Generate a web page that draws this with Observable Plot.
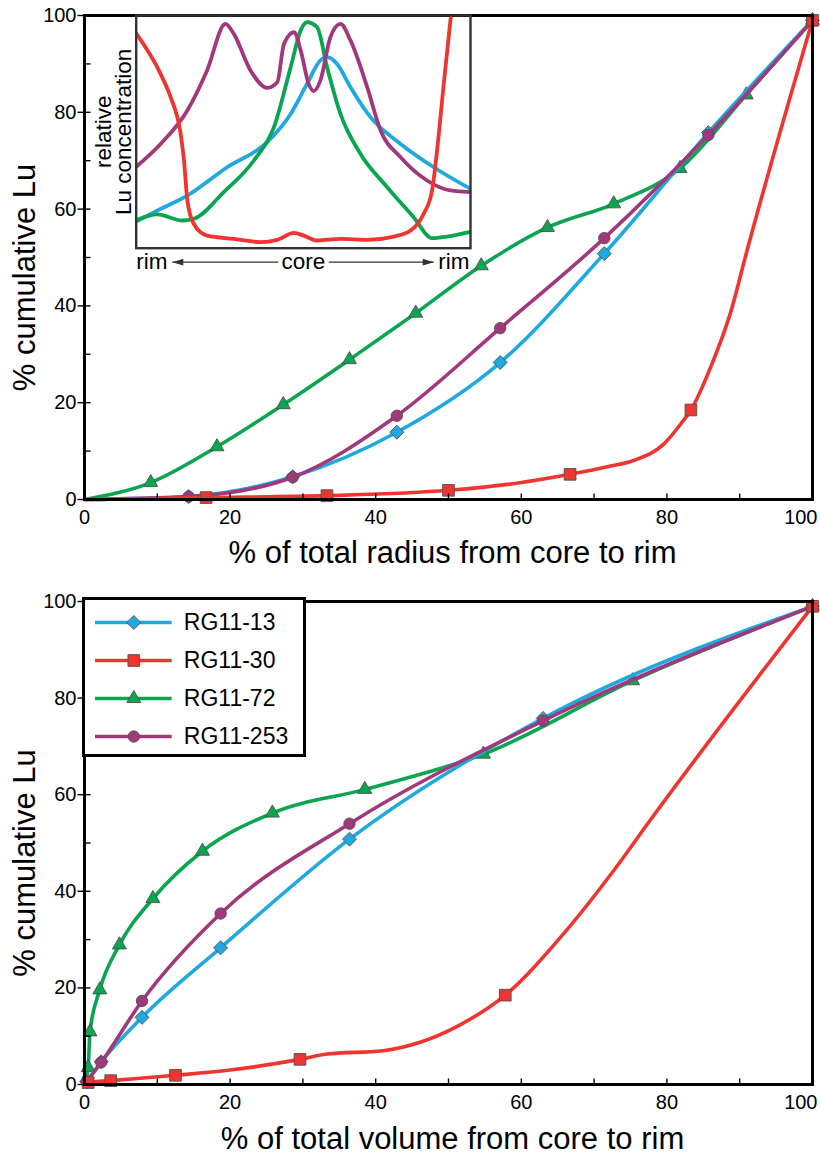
<!DOCTYPE html>
<html><head><meta charset="utf-8">
<script src="https://cdn.jsdelivr.net/npm/d3@7"></script>
<script src="https://cdn.jsdelivr.net/npm/@observablehq/plot@0.6"></script>
<style>
body{margin:0;background:#fff;}
#wrap{position:relative;width:820px;height:1154px;}
#wrap svg{display:block;}
</style></head><body><div id="wrap"></div>
<script>
// ---------- data ----------
const names  = ["RG11-13", "RG11-30", "RG11-72", "RG11-253"];
const colors = ["#1fa9e0", "#ef3530", "#0aa550", "#a1387c"];
const symbolNames = ["diamond2", "square", "triangle", "circle"];

// cumulative Lu (%) at each marker
const lu13  = [0.6, 4.7, 13.9, 28.3, 50.8, 75.8, 99];
const lu30  = [0.4, 0.8, 1.9, 5.2, 18.5, 99];
const lu72  = [3.5, 10.9, 19.6, 28.9, 38.5, 48.3, 56.2, 61.1, 68.4, 83.6, 99];
const lu253 = [0.6, 4.6, 17.3, 35.4, 54.0, 75.3, 99];

// marker positions, % of total radius
const rad13  = [14.3, 28.6, 42.9, 57.1, 71.4, 85.7, 100];
const rad30  = [16.7, 33.3, 50, 66.7, 83.3, 100];
const rad72  = [9.1, 18.2, 27.3, 36.4, 45.5, 54.5, 63.6, 72.7, 81.8, 90.9, 100];
const rad253 = [14.3, 28.6, 42.9, 57.1, 71.4, 85.7, 100];

// marker positions, % of total volume
const vol13  = [0.3, 2.3, 7.9, 18.7, 36.4, 63.0, 100];
const vol30  = [0.5, 3.6, 12.5, 29.6, 57.8, 100];
const vol72  = [0.5, 0.75, 2.1, 4.8, 9.4, 16.2, 25.8, 38.5, 54.8, 75.3, 100];
const vol253 = [0.3, 2.3, 7.9, 18.7, 36.4, 63.0, 100];

// RG11-30 drawn curve
const rad30LineX = [0, 16.7, 33.3, 50, 60, 66.7, 72, 75.5, 79.6, 81.9, 83.3, 86, 88.7, 91, 100];
const rad30LineY = [0, 0.4, 0.8, 1.9, 3.5, 5.2, 6.8, 8.1, 11.5, 15.6, 18.5, 27.3, 38.4, 51.4, 99];
const vol30LineX = [0, 0.5, 3.6, 12.5, 20, 29.6, 33.3, 41, 46.2, 51.4, 57.8, 65.8, 72.7, 77.7, 100];
const vol30LineY = [0, 0.4, 0.8, 1.9, 3.0, 5.2, 6.3, 7.0, 8.8, 12.2, 18.5, 31.2, 44.3, 54.7, 99];

// inset: relative Lu concentration profiles (rim -> core -> rim, 0..100)
const inset13U  = [0, 7.3, 15.3, 27.2, 39.2, 46.2, 51.1, 55.1, 57.1, 60.1, 64.1, 70.1, 79.1, 89.0, 100];
const inset13V  = [11.5, 16.9, 22.6, 34.8, 45.6, 57.7, 70.6, 80.7, 82.1, 79.2, 69.2, 56.3, 44.8, 34.8, 25.5];
const inset30U  = [0, 7.3, 10.3, 13.3, 14.3, 15.3, 17.2, 21.2, 29.2, 37.2, 42.2, 47.2, 50.1, 54.1, 61.1, 69.1, 77.1, 82.1, 86.0, 88.5, 90.0, 92.0, 94.0, 94.6];
const inset30V  = [92.3, 74.9, 64.9, 49.1, 37.7, 20.5, 10.5, 5.4, 4.0, 2.6, 3.6, 6.6, 5.4, 3.3, 4.0, 3.6, 5.0, 7.6, 14.8, 24.8, 42.0, 70.6, 97.9, 106];
const inset72U  = [0, 6.3, 13.8, 17.2, 26.2, 35.2, 41.2, 46.2, 49.2, 51.1, 54.1, 57.1, 61.1, 67.1, 75.1, 83.0, 88.5, 93.0, 100];
const inset72V  = [12.0, 14.5, 11.9, 12.6, 24.1, 37.7, 52.0, 77.8, 93.6, 97.1, 95.0, 77.8, 57.7, 40.5, 26.2, 13.3, 4.3, 5.0, 7.0];
const inset253U = [0, 7.3, 15.3, 21.2, 26.7, 29.2, 34.2, 39.2, 42.2, 44.2, 47.2, 49.2, 51.6, 53.1, 55.1, 58.1, 61.1, 64.1, 69.1, 73.1, 79.1, 87.0, 94.0, 100];
const inset253V = [35.0, 44.8, 59.2, 76.4, 96.4, 92.1, 76.4, 68.9, 71.3, 87.8, 92.8, 85.0, 70.6, 67.5, 72.1, 90.7, 96.4, 89.3, 69.2, 50.6, 39.1, 29.1, 24.8, 24.1];
const insetLabels = ["rim", "core", "rim"];
const insetLabelU = [0, 50, 100];
const arrowFromU = [42.5, 57.6];
const arrowToU   = [10.8, 89.0];

// axes
const xMajor = [0, 20, 40, 60, 80, 100];
const xTickLabels = ["0", "20", "40", "60", "80", "100"];
const xMinor = [10, 30, 50, 70, 90];
const yMajor = [0, 20, 40, 60, 80, 100];
const yTickLabels = ["0", "20", "40", "60", "80", "100"];
const yMinor = [10, 30, 50, 70, 90];
const yTitle = "% cumulative Lu";
const xTitleTop = "% of total radius from core to rim";
const xTitleBottom = "% of total volume from core to rim";

// ---------- rendering ----------
const font = "'Liberation Sans', Arial, Helvetica, sans-serif";
const lu = [lu13, lu30, lu72, lu253];
const radii = [6.3, 6.6, 5.2, 5.7];
const colorScale = {domain: names, range: colors};

const tickUp    = {draw(c) { c.moveTo(0, 0); c.lineTo(0, -6); }};
const tickIn    = {draw(c) { c.moveTo(0, 0); c.lineTo(6, 0); }};
const tickCross = {draw(c) { c.moveTo(-7, 0); c.lineTo(6, 0); }};
const headLeft  = {draw(c) { c.moveTo(0, 0); c.lineTo(11, -3.4); c.lineTo(11, 3.4); c.closePath(); }};
const headRight = {draw(c) { c.moveTo(0, 0); c.lineTo(-11, -3.4); c.lineTo(-11, 3.4); c.closePath(); }};

function panel(xPos, redX, redY, xTitle, layout) {
  const order = [2, 0, 3, 1]; // green, blue, purple, red (top)
  const marks = [];
  for (const i of order) {
    const pts = lu[i].map((y, j) => ({name: names[i], x: xPos[i][j], y}));
    const path = i === 1
      ? redX.map((x, j) => ({name: names[1], x, y: redY[j]}))
      : [{name: names[i], x: 0, y: 0}, ...pts];
    marks.push(Plot.line(path, {x: "x", y: "y", stroke: "name", strokeWidth: 3.6, curve: "monotone-x"}));
    marks.push(Plot.dot(pts, {x: "x", y: "y", fill: "name", stroke: "#505050", strokeWidth: 0.9,
                              symbol: symbolNames[i], r: radii[i]}));
  }
  marks.push(Plot.frame({stroke: "black", strokeWidth: 3}));
  const tk = {stroke: "black", fill: "none", strokeWidth: 1.4};
  marks.push(Plot.dot(xMinor.concat(xMajor), {x: d => d, frameAnchor: "bottom", symbol: tickUp, ...tk}));
  marks.push(Plot.dot(yMinor, {y: d => d, frameAnchor: "left", symbol: tickIn, ...tk}));
  marks.push(Plot.dot(yMajor, {y: d => d, frameAnchor: "left", symbol: tickCross, ...tk}));
  marks.push(Plot.text(xMajor.slice(0, 5), {x: d => d, text: (d, i) => xTickLabels[i], frameAnchor: "bottom",
                                            textAnchor: "middle", dy: 10.5, lineAnchor: "top", fontSize: 20}));
  marks.push(Plot.text(xMajor.slice(5), {x: d => d, text: () => xTickLabels[5], frameAnchor: "bottom",
                                         textAnchor: "end", dx: 5, dy: 10.5, lineAnchor: "top", fontSize: 20}));
  marks.push(Plot.text(yMajor, {y: d => d, text: (d, i) => yTickLabels[i], frameAnchor: "left",
                                textAnchor: "end", dx: -8, fontSize: 20}));
  marks.push(Plot.text([xTitle], {text: d => d, frameAnchor: "bottom", textAnchor: "middle", dx: 4,
                                  dy: layout.titleDy, lineAnchor: "bottom", fontSize: 31}));
  marks.push(Plot.text([yTitle], {text: d => d, frameAnchor: "left", textAnchor: "middle", rotate: -90,
                                  dx: -50, dy: 20, lineAnchor: "bottom", fontSize: 31}));
  return Plot.plot({
    width: 820, height: layout.height,
    marginLeft: 84, marginRight: 8, marginTop: layout.mt, marginBottom: layout.mb,
    x: {domain: [0, 100], axis: null},
    y: {domain: [0, 100], axis: null},
    color: colorScale,
    style: {fontFamily: font, background: "white", overflow: "visible"},
    marks
  });
}

const wrap = document.getElementById("wrap");

const topPanel = panel([rad13, rad30, rad72, rad253], rad30LineX, rad30LineY, xTitleTop,
                  {height: 580, mt: 15, mb: 81, titleDy: 63});
wrap.appendChild(topPanel);

const bottomPanel = panel([vol13, vol30, vol72, vol253], vol30LineX, vol30LineY, xTitleBottom,
                     {height: 574, mt: 21, mb: 70, titleDy: 64});
wrap.appendChild(bottomPanel);

// ---------- inset ----------
const insetSets = [[inset13U, inset13V, 0], [inset72U, inset72V, 2], [inset253U, inset253V, 3], [inset30U, inset30V, 1]];
const insetMarks = [];
for (const [U, V, i] of insetSets) {
  insetMarks.push(Plot.line(U.map((u, j) => ({name: names[i], u, v: V[j]})),
    {x: "u", y: "v", stroke: "name", strokeWidth: 3.8, curve: "monotone-x", clip: true}));
}
insetMarks.push(Plot.frame({stroke: "#333", strokeWidth: 2.4}));
insetMarks.push(Plot.link([0, 1], {x1: i => arrowFromU[i], x2: i => arrowToU[i], y1: () => -6, y2: () => -6,
                                    stroke: "#333", strokeWidth: 1.4}));
insetMarks.push(Plot.dot([arrowToU[0]], {x: d => d, y: () => -6, symbol: headLeft, fill: "#333", stroke: "none"}));
insetMarks.push(Plot.dot([arrowToU[1]], {x: d => d, y: () => -6, symbol: headRight, fill: "#333", stroke: "none"}));
insetMarks.push(Plot.text([0], {x: i => insetLabelU[i], y: () => -6, text: i => insetLabels[i], textAnchor: "start", fontSize: 22.5}));
insetMarks.push(Plot.text([1], {x: i => insetLabelU[i], y: () => -6, text: i => insetLabels[i], textAnchor: "middle", fontSize: 22.5}));
insetMarks.push(Plot.text([2], {x: i => insetLabelU[i], y: () => -6, text: i => insetLabels[i], textAnchor: "end", dx: -1, fontSize: 22.5}));
insetMarks.push(Plot.text(["relative"], {text: d => d, frameAnchor: "left", textAnchor: "middle", rotate: -90,
                                         dx: -25.7, lineAnchor: "bottom", fontSize: 22.5}));
insetMarks.push(Plot.text(["Lu concentration"], {text: d => d, frameAnchor: "left", textAnchor: "middle", rotate: -90,
                                                 dx: -5.7, lineAnchor: "bottom", fontSize: 22.5}));
const inset = Plot.plot({
  width: 390, height: 280,
  marginLeft: 45.7, marginRight: 10, marginTop: 15, marginBottom: 32.3,
  x: {domain: [0, 100], axis: null},
  y: {domain: [0, 100], axis: null},
  color: colorScale,
  style: {fontFamily: font, background: "transparent", overflow: "visible",
          position: "absolute", left: "90px", top: "0px"},
  marks: insetMarks
});
wrap.appendChild(inset);

// ---------- legend ----------
const legendMarks = [Plot.frame({stroke: "black", strokeWidth: 3, fill: "white"})];
legendMarks.push(Plot.ruleY(names, {y: d => d, x1: () => 15, x2: () => 91.7, stroke: d => d, strokeWidth: 3.6}));
names.forEach((n, i) => {
  legendMarks.push(Plot.dot([n], {x: () => 53.3, y: d => d, fill: d => d, stroke: "#505050", strokeWidth: 0.9,
                                  symbol: symbolNames[i], r: radii[i]}));
});
legendMarks.push(Plot.text(names, {x: () => 103.3, y: d => d, text: d => d, textAnchor: "start", fontSize: 23}));
const legend = Plot.plot({
  width: 228, height: 164,
  marginLeft: 3, marginRight: 4, marginTop: 3, marginBottom: 4,
  x: {domain: [0, 228], range: [0, 228], axis: null},
  y: {type: "point", domain: names, range: [25.7, 142.7], padding: 0, axis: null},
  color: colorScale,
  style: {fontFamily: font, background: "transparent", overflow: "visible",
          position: "absolute", left: "80px", top: "595px"},
  marks: legendMarks
});
wrap.appendChild(legend);
</script></body></html>
